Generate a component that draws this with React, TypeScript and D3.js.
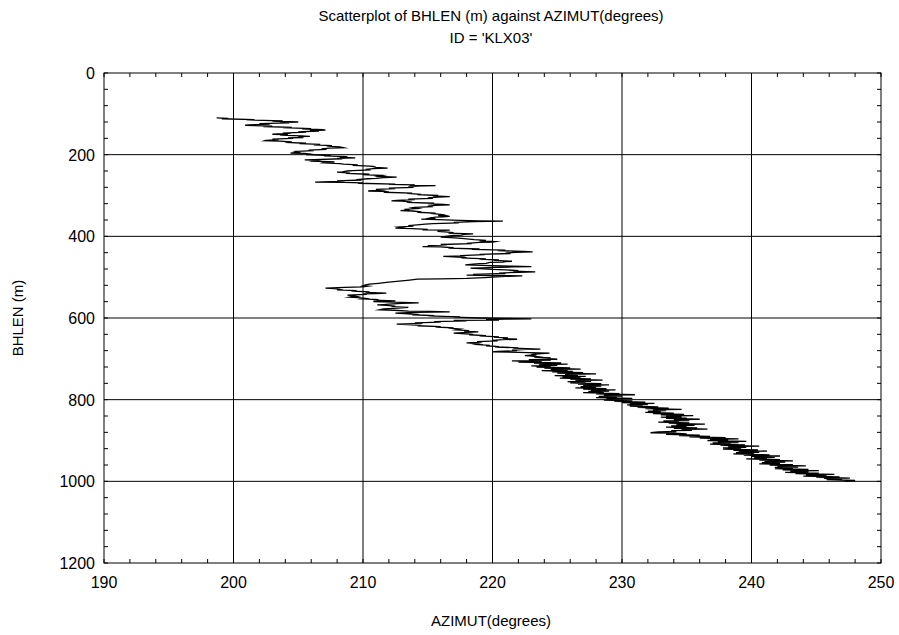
import React from "react";
import * as d3 from "d3";

const W = 899;
const H = 635;

// Survey readings as [BHLEN (m), AZIMUT (degrees)], split by depth interval
const upperTrace: [number, number][] = [
  [110, 198.7], [111, 199.6], [112, 199.1], [114, 201.6], [115, 201.0], [117, 203.8], [118, 203.0], [120, 205.0],
  [121, 203.6], [122, 204.3], [124, 202.0], [125, 202.8], [127, 201.2], [128, 200.9], [130, 203.0], [131, 202.3],
  [133, 204.5], [134, 203.8], [136, 206.0], [137, 205.3], [139, 206.9], [140, 207.1], [141, 205.9], [142, 206.6],
  [144, 205.0], [145, 205.6], [147, 203.8], [148, 204.4], [150, 203.0], [151, 204.2], [152, 203.6], [154, 205.2],
  [155, 205.9], [156, 205.0], [158, 205.4], [159, 204.2], [160, 204.6], [162, 203.0], [163, 203.5], [165, 202.5],
  [166, 202.4], [167, 203.6], [169, 204.5], [170, 204.0], [172, 205.6], [173, 205.1], [175, 206.7], [176, 206.2],
  [178, 207.6], [179, 207.2], [181, 208.2], [183, 208.5], [184, 207.4], [186, 206.8], [187, 207.2], [189, 205.8],
  [190, 206.2], [192, 204.8], [194, 205.0], [196, 204.4], [197, 205.5], [199, 206.0], [200, 205.6], [202, 207.5],
  [203, 207.0], [205, 208.8], [206, 208.2], [208, 209.4], [209, 208.0], [210, 208.4], [212, 206.2], [213, 205.5],
  [214, 206.5], [216, 206.2], [217, 207.4], [218, 207.8], [219, 207.0], [220, 206.9], [222, 208.2], [223, 208.5],
  [225, 209.6], [226, 209.2], [228, 210.5], [229, 210.8], [231, 211.0], [233, 211.9], [234, 210.8], [236, 210.2],
  [237, 210.6], [239, 209.2], [240, 208.8], [242, 208.4], [243, 208.0], [245, 209.0], [246, 208.7], [248, 210.5],
  [249, 210.0],
];

const middleTrace: [number, number][] = [
  [251, 211.5], [253, 211.2], [255, 212.6], [256, 211.6], [258, 211.0], [259, 210.4], [261, 209.5], [262, 209.9],
  [264, 208.0], [265, 208.6], [267, 206.3], [268, 208.5], [269, 210.0], [270, 209.6], [272, 212.5], [273, 212.0],
  [274, 214.0], [275, 213.6], [276, 215.6], [277, 214.4], [279, 213.5], [280, 213.9], [282, 212.0], [283, 212.5],
  [285, 211.0], [287, 211.4], [289, 210.4], [290, 211.5], [291, 212.0], [292, 211.6], [294, 213.8], [295, 213.4],
  [297, 214.5], [298, 214.2], [300, 215.8], [301, 215.4], [303, 216.7], [304, 215.8], [306, 215.0], [307, 215.4],
  [309, 213.5], [310, 214.0], [312, 212.6], [313, 212.2], [314, 213.0], [316, 213.8], [317, 213.4], [319, 215.5],
  [320, 215.0], [322, 216.2], [323, 216.7], [324, 215.6], [326, 215.0], [327, 215.4], [329, 214.0], [330, 213.8],
  [332, 214.2], [334, 213.2], [335, 213.6], [337, 212.9], [338, 213.8], [340, 214.5], [341, 214.2], [343, 215.6],
  [344, 215.2], [346, 216.0], [348, 216.3], [349, 215.8], [351, 216.7], [352, 216.2], [353, 215.6], [355, 215.2],
  [356, 215.6], [358, 214.5], [359, 215.8], [361, 217.5], [362, 219.0], [363, 220.8], [364, 218.6], [366, 217.0],
  [367, 217.4], [369, 215.4], [370, 214.8], [372, 214.2], [374, 213.5], [375, 213.9], [377, 212.8], [378, 213.0],
  [380, 212.5], [381, 213.8], [383, 215.0], [384, 214.6], [385, 216.7], [386, 215.8], [388, 215.8], [389, 216.3],
  [391, 217.0], [392, 216.6], [394, 218.5], [395, 217.8], [397, 217.6], [398, 217.0], [400, 216.4], [402, 216.0],
  [403, 216.8], [405, 217.6], [406, 218.0], [408, 218.6], [410, 219.5], [411, 219.0], [413, 220.2], [414, 220.0],
  [415, 219.0], [417, 218.0], [418, 218.4], [420, 216.0], [421, 216.5], [423, 215.0], [424, 215.4], [425, 214.6],
  [426, 216.0], [428, 217.0], [429, 216.6], [431, 219.0], [432, 218.4], [434, 221.0], [435, 220.4], [437, 222.4],
  [438, 223.1], [439, 221.8], [441, 221.0], [442, 221.4], [444, 219.0], [445, 219.4], [447, 217.5], [448, 217.9],
  [449, 216.2], [450, 217.0], [452, 218.0], [453, 217.6], [455, 219.5], [456, 219.0], [458, 220.5], [459, 220.1],
  [461, 221.5], [462, 221.0], [463, 220.8], [464, 219.8], [466, 219.5], [467, 219.0], [468, 218.5], [470, 217.9],
  [471, 219.2], [472, 220.0], [473, 221.5], [474, 223.0], [475, 221.6], [476, 220.5], [477, 219.2], [478, 218.3],
  [479, 219.0], [481, 220.0], [482, 221.0], [484, 222.0], [485, 221.6], [487, 223.3], [488, 222.0], [490, 220.5],
  [491, 221.0], [493, 218.5], [494, 219.0], [495, 218.0], [496, 220.0], [497, 222.3], [498, 221.0], [500, 220.0],
  [501, 219.4], [503, 218.0], [504, 216.0], [505, 214.2],
];

const lowerTrace: [number, number][] = [
  [507, 213.6], [509, 213.0], [511, 212.4], [513, 211.8], [515, 211.2], [517, 210.5], [519, 210.2], [521, 210.0],
  [522, 210.4], [524, 210.0], [525, 208.6], [527, 207.1], [528, 207.8], [530, 208.2], [531, 208.0], [533, 209.5],
  [534, 209.1], [536, 210.5], [537, 210.2], [539, 211.8], [540, 211.0], [541, 210.0], [542, 210.3], [544, 208.8],
  [545, 209.1], [547, 209.5], [548, 209.2], [549, 209.0], [550, 209.6], [552, 210.2], [553, 210.0], [555, 211.2],
  [556, 210.8], [558, 212.5], [559, 211.6], [560, 210.8], [561, 212.4], [563, 214.3], [564, 213.0], [566, 212.0],
  [567, 211.6], [568, 211.1], [569, 211.8], [571, 212.5], [572, 212.2], [574, 213.5], [575, 213.0], [577, 212.0],
  [578, 211.6], [580, 211.3], [581, 212.4], [583, 213.5], [584, 215.2], [585, 216.7], [586, 214.0], [588, 212.5],
  [589, 213.2], [591, 214.0], [592, 213.8], [594, 215.5], [595, 215.0], [597, 217.5], [598, 217.0], [600, 219.0],
  [601, 221.0], [602, 223.0], [603, 221.0], [604, 219.5], [605, 220.5], [606, 217.0], [607, 218.0], [609, 215.5],
  [610, 216.0], [612, 214.0], [613, 214.6], [615, 212.6], [616, 213.4], [618, 214.5], [619, 214.2], [621, 216.0],
  [622, 215.6], [624, 217.0], [625, 216.6], [627, 217.5], [629, 217.2], [631, 218.2], [632, 217.8], [634, 218.9],
  [635, 218.0], [637, 217.0], [638, 217.6], [640, 218.5], [641, 218.2], [643, 219.5], [644, 219.0], [646, 220.5],
  [647, 220.1], [649, 221.2], [650, 220.8], [652, 221.9], [653, 220.8], [655, 220.0], [656, 220.4], [658, 218.8],
  [659, 219.2], [661, 218.0], [662, 218.6], [664, 219.0], [665, 218.8], [667, 219.8], [668, 219.5], [670, 220.5],
  [671, 220.2], [673, 222.0], [674, 221.6], [676, 223.7], [677, 222.6], [679, 221.5], [680, 221.9], [682, 220.4],
  [683, 220.0], [684, 222.0], [686, 224.4], [687, 223.8], [689, 223.0], [690, 223.4], [692, 222.5], [693, 222.9],
  [695, 223.5], [696, 223.2], [698, 224.5], [699, 224.2],
];

const deepTrace: [number, number][] = [
  [701, 225.0], [702, 222.8], [704, 224.5], [705, 221.5], [707, 223.8], [708, 222.0], [710, 225.3], [711, 223.2],
  [713, 225.8], [714, 223.6], [716, 225.0], [717, 223.0], [719, 224.5], [720, 223.4], [722, 226.0], [723, 224.0],
  [725, 226.8], [726, 224.5], [728, 225.8], [729, 223.8], [731, 226.2], [732, 224.6], [734, 227.0], [735, 225.0],
  [737, 228.0], [738, 225.6], [740, 226.6], [741, 224.8], [743, 227.2], [744, 225.4], [746, 226.8], [747, 225.2],
  [749, 227.6], [750, 226.0], [752, 228.5], [753, 226.4], [755, 227.6], [756, 225.8], [758, 227.2], [759, 226.0],
  [761, 228.4], [762, 226.6], [764, 229.0], [765, 227.0], [767, 228.4], [768, 226.8], [770, 228.0], [771, 226.4],
  [773, 228.8], [774, 227.0], [776, 229.5], [777, 227.6], [779, 229.0], [780, 227.4], [782, 228.6], [783, 227.0],
  [785, 229.8], [786, 228.0], [788, 231.0], [789, 228.6], [791, 230.0], [792, 228.2], [794, 229.6], [795, 228.0],
  [797, 230.8], [798, 228.8], [800, 229.3], [801, 228.6], [803, 230.8], [804, 229.4], [806, 231.8], [807, 230.0],
  [809, 232.5], [810, 230.6], [812, 232.0], [813, 230.4], [815, 231.6], [816, 230.6], [818, 232.8], [819, 231.2],
  [821, 233.6], [822, 231.8], [824, 234.6], [825, 232.4], [827, 233.4], [828, 232.0], [830, 233.0], [831, 231.8],
  [833, 234.0], [834, 232.4], [836, 234.8], [837, 233.0], [839, 235.5], [840, 233.4], [842, 234.6], [843, 233.0],
  [845, 235.0], [846, 233.4], [848, 236.0], [849, 234.0], [851, 235.2], [852, 233.2], [854, 234.4], [855, 232.8],
  [857, 235.2], [858, 233.6], [860, 236.4], [861, 234.2], [863, 235.6], [864, 233.8], [866, 235.0], [867, 233.4],
  [869, 235.8], [870, 234.0], [872, 236.6], [873, 234.6], [875, 235.4], [876, 233.8], [878, 234.2], [879, 232.8],
  [881, 232.2], [882, 234.0], [884, 235.0], [885, 233.4], [887, 236.0], [888, 234.4], [890, 236.8], [891, 235.2],
  [893, 238.0], [894, 236.0], [896, 239.0], [897, 236.8], [899, 238.2], [900, 236.6], [902, 239.6], [903, 237.4],
  [905, 239.0], [906, 237.0], [908, 238.4], [909, 236.8], [911, 239.5], [912, 237.6], [914, 240.6], [915, 238.2],
  [917, 239.6], [918, 237.8], [920, 239.2], [921, 237.8], [923, 240.5], [924, 238.6], [926, 241.2], [927, 239.0],
  [929, 240.6], [930, 238.8], [932, 240.2], [933, 238.6], [935, 241.4], [936, 239.4], [938, 242.2], [939, 240.0],
  [941, 241.8], [942, 240.2], [944, 241.2], [945, 239.6], [947, 242.2], [948, 240.6], [950, 243.2], [951, 241.0],
  [953, 242.6], [954, 240.8], [956, 242.2], [957, 240.6], [959, 243.2], [960, 241.4], [962, 244.2], [963, 242.0],
  [965, 243.6], [966, 241.8], [968, 243.2], [969, 241.8], [971, 244.4], [972, 242.4], [974, 245.2], [975, 243.0],
  [977, 244.4], [978, 242.6], [980, 245.2], [981, 243.4], [983, 246.4], [984, 244.2], [986, 245.8], [987, 244.0],
  [989, 246.8], [990, 245.0], [992, 247.6], [993, 245.6], [995, 247.0], [996, 245.8], [998, 248.0], [1000, 247.2],
];

const xTicks: number[] = [190, 200, 210, 220, 230, 240, 250];
const yTicks: number[] = [0, 200, 400, 600, 800, 1000, 1200];

const titleLines: string[] = ["Scatterplot of BHLEN (m) against AZIMUT(degrees)", "ID = 'KLX03'"];
const xLabel = "AZIMUT(degrees)";
const yLabel = "BHLEN (m)";

const FONT = "'Liberation Sans', Arial, sans-serif";

export default function App() {
  const left = 104;
  const right = 881;
  const top = 73;
  const bottom = 563;

  const x = d3.scaleLinear().domain([190, 250]).range([left, right]);
  const y = d3.scaleLinear().domain([0, 1200]).range([top, bottom]);

  const trace = [...upperTrace, ...middleTrace, ...lowerTrace, ...deepTrace];
  const line = d3
    .line<[number, number]>()
    .x((d) => x(d[1]))
    .y((d) => y(d[0]));

  const xMinor = d3.range(190, 250.001, 2);
  const yMinor = d3.range(0, 1200.001, 40);

  return (
    <div style={{ position: "absolute", left: 0, top: 0 }}>
      <svg width={W} height={H} style={{ display: "block", background: "#fff" }}>
        <rect x={0} y={0} width={W} height={H} fill="#fff" />

        {titleLines.map((t, i) => (
          <text key={t} x={491} y={21 + i * 22} textAnchor="middle" fontFamily={FONT} fontSize={15} fill="#000">
            {t}
          </text>
        ))}

        {/* grid lines at major ticks */}
        {xTicks.slice(1, -1).map((t) => (
          <line key={"gx" + t} x1={x(t)} x2={x(t)} y1={top} y2={bottom} stroke="#000" strokeWidth={1} />
        ))}
        {yTicks.slice(1, -1).map((t) => (
          <line key={"gy" + t} x1={left} x2={right} y1={y(t)} y2={y(t)} stroke="#000" strokeWidth={1} />
        ))}

        {/* minor ticks on all four sides */}
        {xMinor.map((t) => (
          <g key={"mx" + t}>
            <line x1={x(t)} x2={x(t)} y1={top} y2={top + 4} stroke="#000" />
            <line x1={x(t)} x2={x(t)} y1={bottom} y2={bottom - 4} stroke="#000" />
          </g>
        ))}
        {yMinor.map((t) => (
          <g key={"my" + t}>
            <line x1={left} x2={left + 4} y1={y(t)} y2={y(t)} stroke="#000" />
            <line x1={right} x2={right - 4} y1={y(t)} y2={y(t)} stroke="#000" />
          </g>
        ))}

        {/* borehole trace */}
        <path d={line(trace) ?? ""} fill="none" stroke="#000" strokeWidth={1.3} strokeLinejoin="miter" strokeMiterlimit={10} />

        <rect x={left} y={top} width={right - left} height={bottom - top} fill="none" stroke="#000" strokeWidth={1} />

        {xTicks.map((t) => (
          <text key={"xl" + t} x={x(t)} y={588} textAnchor="middle" fontFamily={FONT} fontSize={16} fill="#000">
            {t}
          </text>
        ))}
        {yTicks.map((t) => (
          <text key={"yl" + t} x={95} y={y(t) + 6} textAnchor="end" fontFamily={FONT} fontSize={16} fill="#000">
            {t}
          </text>
        ))}

        <text x={491} y={626} textAnchor="middle" fontFamily={FONT} fontSize={15} fill="#000">
          {xLabel}
        </text>
        <text
          transform={`translate(23, ${(top + bottom) / 2}) rotate(-90)`}
          textAnchor="middle"
          fontFamily={FONT}
          fontSize={15}
          fill="#000"
        >
          {yLabel}
        </text>
      </svg>
    </div>
  );
}
